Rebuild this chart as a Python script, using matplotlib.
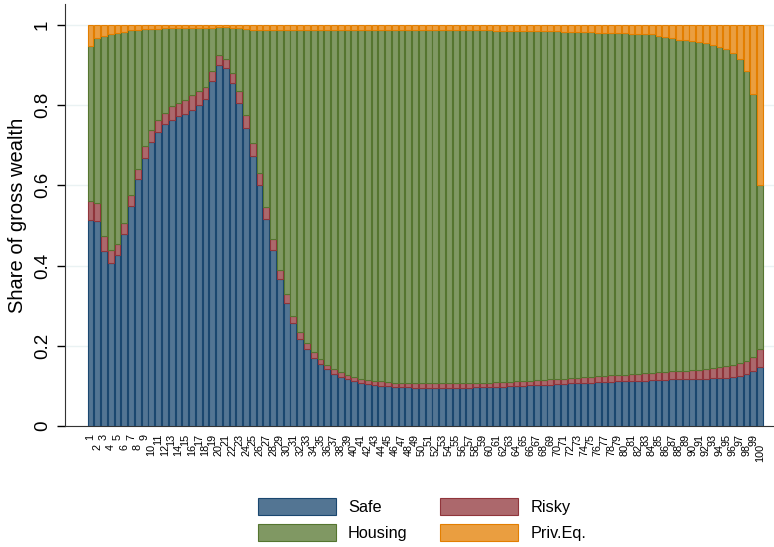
import numpy as np
import matplotlib
matplotlib.use("Agg")
import matplotlib.pyplot as plt

plt.rcParams['font.family'] = ['Liberation Sans', 'DejaVu Sans']

# === data: portfolio shares by wealth percentile ===
percentiles = list(range(1, 101))

safe = [
    .513, .510, .436, .407, .426, .479, .548, .615, .669, .709,
    .734, .752, .764, .772, .778, .789, .801, .816, .859, .901,
    .893, .855, .805, .743, .672, .600, .516, .439, .366, .307,
    .257, .217, .191, .170, .154, .141, .130, .122, .116, .111,
    .107, .105, .102, .100, .099, .097, .096, .096, .095, .095,
    .095, .095, .095, .095, .095, .095, .095, .096, .096, .097,
    .098, .098, .099, .099, .100, .101, .102, .102, .103, .104,
    .105, .106, .106, .107, .108, .109, .110, .110, .111, .112,
    .112, .113, .113, .114, .115, .115, .116, .116, .117, .117,
    .117, .118, .119, .120, .120, .123, .125, .129, .137, .148,
]
risky = [
    .048, .046, .038, .031, .027, .027, .027, .026, .028, .030,
    .029, .029, .033, .034, .034, .036, .033, .030, .027, .023,
    .022, .025, .029, .033, .034, .031, .030, .027, .024, .021,
    .017, .017, .015, .015, .013, .011, .012, .012, .011, .010,
    .011, .010, .010, .011, .011, .011, .011, .011, .011, .011,
    .011, .011, .011, .011, .011, .011, .011, .011, .011, .011,
    .011, .012, .011, .012, .012, .012, .012, .013, .013, .013,
    .013, .013, .014, .014, .015, .015, .015, .016, .016, .016,
    .017, .017, .018, .018, .019, .020, .020, .021, .021, .022,
    .023, .024, .025, .026, .029, .029, .031, .034, .036, .044,
]
housing = [
    .386, .411, .498, .538, .527, .477, .411, .346, .292, .251,
    .227, .210, .195, .186, .181, .168, .159, .147, .107, .070,
    .079, .113, .157, .214, .282, .356, .441, .521, .597, .659,
    .713, .753, .781, .802, .820, .835, .846, .854, .861, .867,
    .870, .873, .876, .877, .878, .880, .881, .881, .882, .881,
    .880, .880, .880, .880, .880, .880, .880, .879, .879, .878,
    .876, .875, .875, .874, .873, .872, .871, .870, .869, .868,
    .865, .864, .863, .862, .860, .856, .855, .854, .853, .852,
    .847, .846, .845, .844, .838, .834, .830, .826, .824, .820,
    .817, .812, .807, .800, .790, .777, .758, .723, .655, .408,
]
priv_eq = [
    .053, .033, .028, .024, .020, .017, .014, .013, .011, .010,
    .010, .009, .008, .008, .007, .007, .007, .007, .007, .006,
    .006, .007, .009, .010, .012, .013, .013, .013, .013, .013,
    .013, .013, .013, .013, .013, .013, .012, .012, .012, .012,
    .012, .012, .012, .012, .012, .012, .012, .012, .012, .013,
    .014, .014, .014, .014, .014, .014, .014, .014, .014, .014,
    .015, .015, .015, .015, .015, .015, .015, .015, .015, .015,
    .017, .017, .017, .017, .017, .020, .020, .020, .020, .020,
    .024, .024, .024, .024, .028, .031, .034, .037, .038, .041,
    .043, .046, .049, .054, .061, .071, .086, .114, .172, .400,
]

series = [
    ("Safe", safe, "#1a476f"),
    ("Risky", risky, "#90353b"),
    ("Housing", housing, "#55752f"),
    ("Priv.Eq.", priv_eq, "#e37e00"),
]


def light(hex_color, share=0.75):
    # stata-like fill: colour mixed with white
    rgb = np.array(matplotlib.colors.to_rgb(hex_color))
    return tuple(rgb * share + (1 - share))


# === plot ===
fig = plt.figure(figsize=(7.74, 5.47), dpi=100)
ax = fig.add_axes([65 / 774, 1 - 426 / 547, 709 / 774, 422 / 547])

x = np.array(percentiles)
bottom = np.zeros(len(x))
for name, vals, col in series:
    vals = np.array(vals)
    ax.bar(x, vals, bottom=bottom, width=0.86, color=light(col),
           edgecolor=col, linewidth=0.8, label=name, zorder=3)
    bottom += vals

ax.set_xlim(-2.77, 102.07)
ax.set_ylim(0, 1.052)

ax.set_yticks([0, 0.2, 0.4, 0.6, 0.8, 1.0])
ax.set_yticklabels(["0", "0.2", "0.4", "0.6", "0.8", "1"], rotation=90,
                   va="center", fontsize=13.5)
ax.tick_params(axis="y", length=6, width=1, pad=4)
ax.set_ylabel("Share of gross wealth", fontsize=14.5, labelpad=5)
ax.grid(axis="y", color="#eaf2f3", linewidth=1, zorder=0)
ax.set_axisbelow(True)

odd = [p for p in percentiles if p % 2 == 1]
even = [p for p in percentiles if p % 2 == 0]
ax.set_xticks(odd)
ax.set_xticklabels([str(p) for p in odd], rotation=90, fontsize=7.8)
ax.set_xticks(even, minor=True)
ax.set_xticklabels([str(p) for p in even], minor=True, rotation=90, fontsize=7.8)
ax.tick_params(axis="x", which="major", length=0, pad=5.5)
ax.tick_params(axis="x", which="minor", length=0, pad=13)

for s in ["top", "right"]:
    ax.spines[s].set_visible(False)
ax.spines["left"].set_color("#333333")
ax.spines["bottom"].set_color("#333333")

handles, labels = ax.get_legend_handles_labels()
order = [0, 2, 1, 3]  # column-wise fill -> Safe/Risky on first row
fig.legend([handles[i] for i in order], [labels[i] for i in order],
           loc="upper center", bbox_to_anchor=(422 / 774, 1 - 490 / 547),
           ncol=2, frameon=False, fontsize=11.7, handlelength=4.8,
           handleheight=1.25, handletextpad=0.75, columnspacing=2.0,
           labelspacing=0.55, borderpad=0)

fig.savefig("out.png", dpi=100)
